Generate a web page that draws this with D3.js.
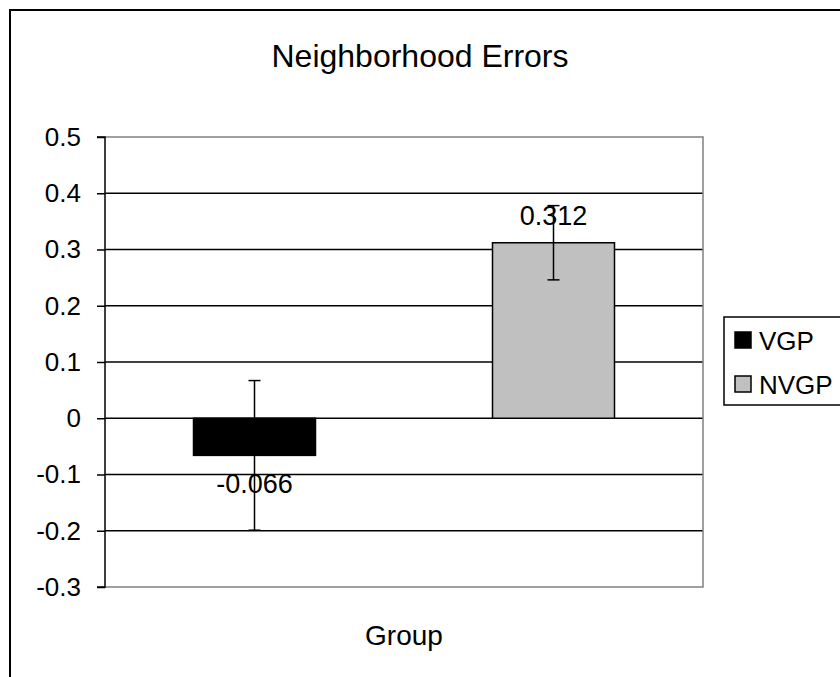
<!DOCTYPE html>
<html><head><meta charset="utf-8">
<script src="https://cdn.jsdelivr.net/npm/d3@7"></script>
<style>html,body{margin:0;padding:0;background:#fff;overflow:hidden}</style>
</head><body>
<svg id="c" width="840" height="677"></svg>
<script>
const categories = ["VGP", "NVGP"];
const values = [-0.066, 0.312];
const errors = [0.133, 0.066];
const colors = ["#000000", "#c0c0c0"];
const yTicks = [-0.3, -0.2, -0.1, 0, 0.1, 0.2, 0.3, 0.4, 0.5];
const title = "Neighborhood Errors";
const xTitle = "Group";

const svg = d3.select("#c");
const font = "'Liberation Sans', Arial, sans-serif";
const L = 105, R = 703, T = 137, B = 587;
const fmt = s => s.replace("\u2212", "-");

svg.append("rect").attr("x", 10).attr("y", 10).attr("width", 900).attr("height", 900)
  .attr("fill", "#fff").attr("stroke", "#000").attr("stroke-width", 2);

const y = d3.scaleLinear().domain([-0.3, 0.5]).range([B, T]);
const x = d3.scaleBand().domain(categories).range([L, R]).paddingInner(0.592).paddingOuter(0.296);

// gridlines
svg.append("g").selectAll("line").data(yTicks.filter(t => t > -0.3 && t < 0.5)).join("line")
  .attr("x1", L).attr("x2", R).attr("y1", d => y(d)).attr("y2", d => y(d))
  .attr("stroke", "#000").attr("stroke-width", 1.5);

// plot border (grey)
svg.append("path").attr("d", `M${L},${T}H${R}V${B}H${L}`).attr("fill", "none")
  .attr("stroke", "#808080").attr("stroke-width", 1.5);

// y axis
const yAxis = d3.axisLeft(y).tickValues(yTicks).tickSize(8).tickPadding(16)
  .tickFormat(d => d === 0 ? "0" : fmt(d3.format(".1f")(d)));
const ga = svg.append("g").attr("transform", `translate(${L},0)`).call(yAxis);
ga.select(".domain").attr("stroke", "#000").attr("stroke-width", 1.5).attr("d", `M-8,${T}H0V${B}H-8`);
ga.selectAll(".tick line").attr("stroke", "#000").attr("stroke-width", 1.5);
ga.selectAll(".tick text").attr("font-family", font).attr("font-size", 26).attr("fill", "#000");

// bars
svg.append("g").selectAll("rect").data(categories).join("rect")
  .attr("x", d => x(d)).attr("width", x.bandwidth())
  .attr("y", (d, i) => y(Math.max(0, values[i])))
  .attr("height", (d, i) => Math.abs(y(values[i]) - y(0)))
  .attr("fill", (d, i) => colors[i]).attr("stroke", "#000").attr("stroke-width", 1.5);

// error bars
const eg = svg.append("g").attr("stroke", "#000").attr("stroke-width", 1.5);
categories.forEach((c, i) => {
  const cx = x(c) + x.bandwidth() / 2;
  const y1 = y(values[i] + errors[i]), y2 = y(values[i] - errors[i]);
  eg.append("line").attr("x1", cx).attr("x2", cx).attr("y1", y1).attr("y2", y2);
  eg.append("line").attr("x1", cx - 6).attr("x2", cx + 6).attr("y1", y1).attr("y2", y1);
  eg.append("line").attr("x1", cx - 6).attr("x2", cx + 6).attr("y1", y2).attr("y2", y2);
});

// value labels
svg.append("g").selectAll("text").data(categories).join("text")
  .attr("x", d => x(d) + x.bandwidth() / 2)
  .attr("y", (d, i) => values[i] >= 0 ? y(values[i]) - 18 : y(values[i]) + 38)
  .attr("text-anchor", "middle").attr("font-family", font).attr("font-size", 27)
  .text((d, i) => fmt(d3.format(".3f")(values[i])));

// title
svg.append("text").attr("x", 420).attr("y", 67).attr("text-anchor", "middle")
  .attr("font-family", font).attr("font-size", 32).text(title);
// x axis title
svg.append("text").attr("x", (L + R) / 2).attr("y", 645).attr("text-anchor", "middle")
  .attr("font-family", font).attr("font-size", 28).text(xTitle);

// legend
const lg = svg.append("g");
lg.append("rect").attr("x", 724).attr("y", 317).attr("width", 140).attr("height", 88)
  .attr("fill", "#fff").attr("stroke", "#000").attr("stroke-width", 1.5);
categories.forEach((c, i) => {
  const cy = 340 + i * 44;
  lg.append("rect").attr("x", 735).attr("y", cy - 8).attr("width", 16).attr("height", 16)
    .attr("fill", colors[i]).attr("stroke", "#000").attr("stroke-width", 1.5);
  lg.append("text").attr("x", 759).attr("y", cy + 10).attr("font-family", font).attr("font-size", 26).text(c);
});
</script>
</body></html>
